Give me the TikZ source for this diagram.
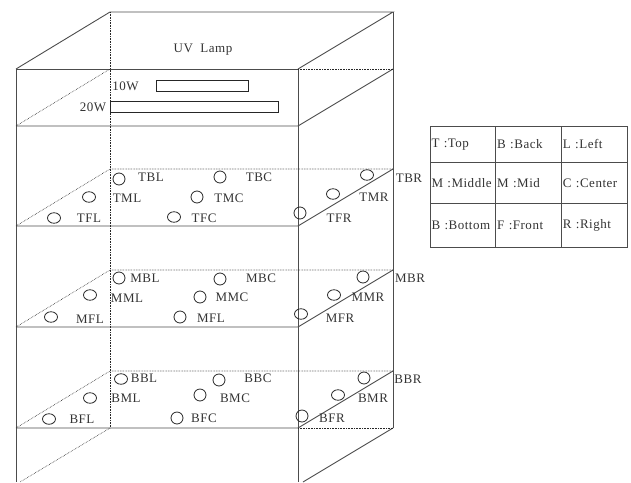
\documentclass[tikz,border=0pt]{standalone}
\usepackage{fontspec}
\setmainfont[LetterSpace=4]{Liberation Serif}
\usetikzlibrary{shapes.geometric}

\begin{document}
\begin{tikzpicture}[
    x=1pt, y=-1pt,
    every node/.style={font=\fontsize{13}{15}\selectfont, text=black!80},
    edge/.style={draw=black!70, line width=0.9pt},
    hidden/.style={draw=black!85, line width=0.6pt, densely dotted},
    sens/.style={draw=black!85, ellipse, inner sep=0pt, line width=0.8pt,
                 minimum width=13pt, minimum height=10.5pt},
    rsens/.style={sens, minimum width=12pt, minimum height=12pt},
    lamp/.style={draw=black!85, line width=0.8pt, inner sep=0pt},
    cell/.style={draw=black!70, line width=0.9pt, inner xsep=1.5pt, inner ysep=0pt,
                 text width=62.6pt, align=left},
  ]
    \useasboundingbox (0,0) rectangle (631,482);

    % corners of the chamber
    \coordinate (rbl) at (110, 12);
    \coordinate (rbr) at (393, 12);
    \coordinate (rfl) at (16,  69);
    \coordinate (rfr) at (298, 69);
    \coordinate (lbl) at (110, 69);
    \coordinate (lbr) at (393, 69);
    \coordinate (lfl) at (16,  126);
    \coordinate (lfr) at (298, 126);
    \coordinate (tbl) at (110, 169);
    \coordinate (tbr) at (393, 169);
    \coordinate (tfl) at (16,  226);
    \coordinate (tfr) at (298, 226);
    \coordinate (mbl) at (110, 270);
    \coordinate (mbr) at (393, 270);
    \coordinate (mfl) at (16,  327);
    \coordinate (mfr) at (298, 327);
    \coordinate (bbl) at (110, 371);
    \coordinate (bbr) at (393, 371);
    \coordinate (bfl) at (16,  428);
    \coordinate (bfr) at (298, 428);
    \coordinate (fbl) at (110, 428);
    \coordinate (fbr) at (393, 428);
    \coordinate (efl) at (16,  482);
    \coordinate (efr) at (298, 482);
    \coordinate (dfl) at (20,  482);
    \coordinate (dfr) at (303, 482);

    % frame
    \draw[edge] (rfl) -- (rbl) -- (rbr) -- (rfr);
    \draw[edge] (rfl) -- (rfr);
    \draw[edge] (rfl) -- (efl);
    \draw[edge] (rfr) -- (efr);
    \draw[edge] (rbr) -- (fbr);
    \draw[edge] (lfl) -- (lfr) -- (lbr);
    \draw[edge] (tfl) -- (tfr) -- (tbr);
    \draw[edge] (mfl) -- (mfr) -- (mbr);
    \draw[edge] (bfl) -- (bfr) -- (bbr);
    \draw[edge] (fbr) -- (dfr);

    % hidden lines
    \draw[hidden] (rbl) -- (fbl);
    \draw[hidden] (rfr) -- (lbr);
    \draw[hidden] (lfl) -- (lbl);
    \draw[hidden] (tfl) -- (tbl) -- (tbr);
    \draw[hidden] (mfl) -- (mbl) -- (mbr);
    \draw[hidden] (bfl) -- (bbl) -- (bbr);
    \draw[hidden] (bfr) -- (fbr);
    \draw[hidden] (fbl) -- (dfl);

    % lamps
    \node (uv) at (203, 50) {UV~~Lamp};
    \node[lamp, minimum width=92pt, minimum height=10.5pt] (lamp10) at (202, 86) {};
    \node[lamp, minimum width=168pt, minimum height=11pt] (lamp20) at (194, 106.5) {};
    \node (w10) at (125.5, 86) {10W};
    \node (w20) at (93, 107) {20W};

    % top shelf
    \node[rsens] (sTBL) at (119, 179) {};
    \node[rsens] (sTBC) at (220, 177) {};
    \node[sens]  (sTML) at (89,  197) {};
    \node[rsens] (sTMC) at (197, 197) {};
    \node[sens]  (sTFL) at (54,  218) {};
    \node[sens]  (sTFC) at (174, 217) {};
    \node[rsens] (sTFR) at (300, 213) {};
    \node[sens]  (sTMR) at (333, 194) {};
    \node[sens]  (sTBR) at (367, 175) {};
    \node (TBL) at (151, 177) {TBL};
    \node (TBC) at (259, 177) {TBC};
    \node (TML) at (127, 198) {TML};
    \node (TMC) at (229, 198) {TMC};
    \node (TFL) at (89,  218) {TFL};
    \node (TFC) at (204, 218) {TFC};
    \node (TFR) at (339, 218) {TFR};
    \node (TMR) at (374, 197) {TMR};
    \node (TBR) at (409, 178) {TBR};

    % middle shelf
    \node[rsens] (sMBL) at (119, 278) {};
    \node[rsens] (sMBC) at (220, 279) {};
    \node[sens]  (sMML) at (90,  295) {};
    \node[rsens] (sMMC) at (200, 297) {};
    \node[sens]  (sMFL) at (51,  317) {};
    \node[rsens] (sMFC) at (180, 317) {};
    \node[sens]  (sMFR) at (301, 314) {};
    \node[sens]  (sMMR) at (334, 295) {};
    \node[rsens] (sMBR) at (363, 277) {};
    \node (MBL) at (145, 278) {MBL};
    \node (MBC) at (261, 278) {MBC};
    \node (MML) at (127, 298) {MML};
    \node (MMC) at (232, 297) {MMC};
    \node (MFL) at (90,  319) {MFL};
    \node (MFC) at (211, 318) {MFL};
    \node (MFR) at (340, 318) {MFR};
    \node (MMR) at (368, 297) {MMR};
    \node (MBR) at (410, 278) {MBR};

    % bottom shelf
    \node[sens]  (sBBL) at (121, 379) {};
    \node[rsens] (sBBC) at (219, 380) {};
    \node[sens]  (sBML) at (90,  398) {};
    \node[rsens] (sBMC) at (200, 395) {};
    \node[sens]  (sBFL) at (49,  419) {};
    \node[rsens] (sBFC) at (177, 418) {};
    \node[rsens] (sBFR) at (302, 416) {};
    \node[sens]  (sBMR) at (338, 395) {};
    \node[rsens] (sBBR) at (364, 378) {};
    \node (BBL) at (144, 378) {BBL};
    \node (BBC) at (258, 378) {BBC};
    \node (BML) at (126, 398) {BML};
    \node (BMC) at (235, 398) {BMC};
    \node (BFL) at (82,  419) {BFL};
    \node (BFC) at (204, 418) {BFC};
    \node (BFR) at (332, 418) {BFR};
    \node (BMR) at (373, 398) {BMR};
    \node (BBR) at (408, 379) {BBR};

    % key
    \node[cell, minimum height=36pt] (keyT) at (462.8, 144.5) {T :Top};
    \node[cell, minimum height=36pt] (keyB) at (528.5, 144.5) {B :Back};
    \node[cell, minimum height=36pt] (keyL) at (594.2, 144.5) {L :Left};
    \node[cell, minimum height=41pt] (keyM) at (462.8, 183) {M :Middle};
    \node[cell, minimum height=41pt] (keyD) at (528.5, 183) {M :Mid};
    \node[cell, minimum height=41pt] (keyC) at (594.2, 183) {C :Center};
    \node[cell, minimum height=44pt] (keyO) at (462.8, 225) {B :Bottom};
    \node[cell, minimum height=44pt] (keyF) at (528.5, 225) {F :Front};
    \node[cell, minimum height=44pt] (keyR) at (594.2, 225) {R :Right};
  \end{tikzpicture}
\end{document}
